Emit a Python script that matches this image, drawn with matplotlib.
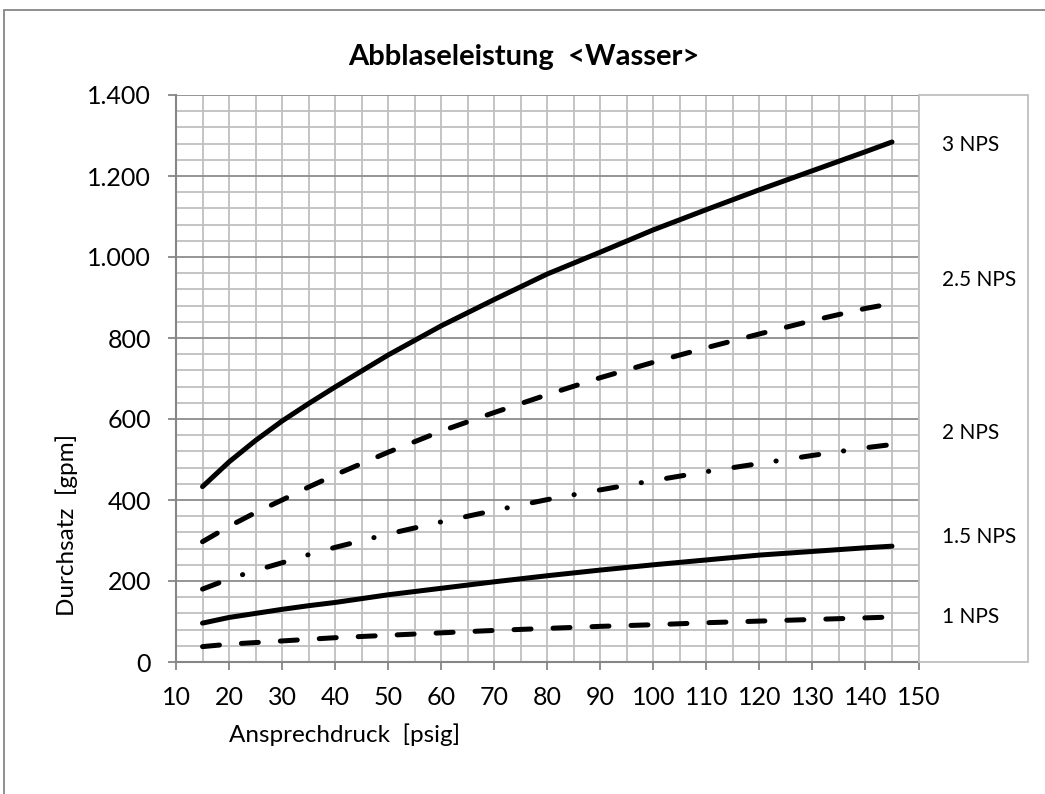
import matplotlib.pyplot as plt
from matplotlib.patches import Rectangle
from matplotlib.ticker import MultipleLocator, FuncFormatter

plt.rcParams['font.family'] = ['Lato', 'DejaVu Sans']

# Ansprechdruck [psig]
druck = [15, 20, 25, 30, 35, 40, 50, 60, 70, 80, 90, 100, 110, 120, 130, 140, 145]

# Durchsatz [gpm] je Nennweite
nps_3 = [433, 494, 547, 595, 638, 679, 758, 830, 895, 958, 1012, 1067, 1117, 1166, 1213, 1260, 1284]
nps_25 = [297, 335, 369, 400, 432, 462, 518, 570, 616, 660, 702, 740, 776, 810, 843, 873, 885]
nps_2 = [180, 205, 226, 245, 265, 283, 316, 346, 374, 401, 425, 448, 470, 490, 510, 529, 537]
nps_15 = [96, 110, 120, 130, 139, 147, 166, 182, 198, 213, 227, 240, 252, 264, 273, 282, 286]
nps_1 = [38, 44, 48, 52, 56, 60, 66, 72, 78, 83, 88, 92, 97, 101, 105, 109, 111]

labels = ["3 NPS", "2.5 NPS", "2 NPS", "1.5 NPS", "1 NPS"]
label_y = [145, 280, 433, 537, 617]  # pixel rows of the side labels

fig = plt.figure(figsize=(10.45, 7.94), dpi=100)
W, H = 1045, 794
ax = fig.add_axes([176 / W, 1 - 662 / H, (918.5 - 176) / W, (662 - 95) / H])

ax.set_xlim(10, 150)
ax.set_ylim(0, 1400)

ax.xaxis.set_major_locator(MultipleLocator(10))
ax.xaxis.set_minor_locator(MultipleLocator(5))
ax.yaxis.set_major_locator(MultipleLocator(200))
ax.yaxis.set_minor_locator(MultipleLocator(40))

ax.grid(True, which='minor', color='#bfbfbf', linewidth=1.3)
ax.grid(True, which='major', axis='x', color='#bfbfbf', linewidth=1.3)
ax.grid(True, which='major', axis='y', color='#8c8c8c', linewidth=1.3)
ax.set_axisbelow(True)

ax.yaxis.set_major_formatter(FuncFormatter(lambda v, p: f"{int(v):,}".replace(",", ".")))

ax.tick_params(which='major', direction='out', length=6, width=1.3, color='#868686',
               labelsize=18)
ax.tick_params(axis='y', pad=12)
ax.tick_params(axis='x', pad=11)
ax.tick_params(which='minor', length=0)

for s in ['left', 'bottom']:
    ax.spines[s].set_color('#868686')
    ax.spines[s].set_linewidth(1.5)
for s in ['top', 'right']:
    ax.spines[s].set_visible(False)

lw = 3.6
ax.plot(druck, nps_3, color='black', lw=lw, solid_capstyle='round', solid_joinstyle='round')
ax.plot(druck, nps_25, color='black', lw=lw, dashes=(3.4, 4.4), dash_capstyle='round')
ax.plot(druck, nps_2, color='black', lw=lw, dashes=(3.5, 5.0, 0.05, 5.1), dash_capstyle='round')
ax.plot(druck, nps_15, color='black', lw=lw, solid_capstyle='round', solid_joinstyle='round')
ax.plot(druck, nps_1, color='black', lw=lw, dashes=(3.4, 4.4), dash_capstyle='round')

# Beschriftungsfeld rechts
fig.patches.append(Rectangle((919 / W, 1 - 662 / H), (1028 - 919) / W, (662 - 95) / H,
                             transform=fig.transFigure, fill=False,
                             edgecolor='#bfbfbf', linewidth=1.3))
for txt, yp in zip(labels, label_y):
    fig.text(942 / W, 1 - yp / H, txt, fontsize=15, va='center', ha='left')

# Rahmen des Diagramms
fig.patches.append(Rectangle((4 / W, -0.1), 1.2, 1 - 10 / H + 0.1,
                             transform=fig.transFigure, fill=False,
                             edgecolor='#868686', linewidth=1.3))

fig.text(524 / W, 1 - 57 / H, "Abblaseleistung  <Wasser>", fontsize=21,
         fontweight='bold', ha='center', va='center')
fig.text(345 / W, 1 - 735 / H, "Ansprechdruck  [psig]", fontsize=17.5,
         ha='center', va='center')
fig.text(67 / W, 1 - 525 / H, "Durchsatz  [gpm]", fontsize=17.5, rotation=90,
         ha='center', va='center')

fig.savefig("out.png", dpi=100)
